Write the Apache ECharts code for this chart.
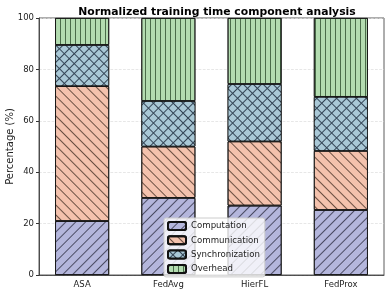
<!DOCTYPE html>
<html><head><meta charset="utf-8">
<script src="https://cdn.jsdelivr.net/npm/echarts@6/dist/echarts.min.js"></script>
<style>html,body{margin:0;padding:0;background:#fff}#c{width:389px;height:294px}</style>
</head><body><div id="c"></div>
<script>
const categories = ['ASA', 'FedAvg', 'HierFL', 'FedProx'];
const computation = [21, 30, 27, 25.3];
const communication = [52.5, 20, 25, 23];
const synchronization = [16, 17.7, 22.3, 21];
const overhead = [10.5, 32.3, 25.7, 30.7];
const yTicks = [0, 20, 40, 60, 80, 100];

const font = 'DejaVu Sans';
function mk(name, data, color, decal) {
  return {
    name, type: 'bar', stack: 'a', data, barWidth: 54,
    itemStyle: { color, borderColor: '#111', borderWidth: 0.8, decal },
    emphasis: { disabled: true }
  };
}
const diagUp = { symbol: 'rect', symbolSize: 1, dashArrayX: [1, 0], dashArrayY: [1, 6], rotation: -Math.PI / 4, color: 'rgba(40,40,60,0.75)' };
const diagDown = { symbol: 'rect', symbolSize: 1, dashArrayX: [1, 0], dashArrayY: [1, 6], rotation: Math.PI / 4, color: 'rgba(60,40,30,0.75)' };
const cross = { symbol: 'rect', symbolSize: 1, dashArrayX: [6, 1], dashArrayY: [6, 1], rotation: Math.PI / 4, color: '#a9c8d6' };
const vert = { symbol: 'rect', symbolSize: 1, dashArrayX: [1, 4], dashArrayY: [1, 0], rotation: 0, color: 'rgba(30,60,30,0.7)' };

const chart = echarts.init(document.getElementById('c'));
chart.setOption({
  animation: false,
  title: { text: 'Normalized training time component analysis', left: 212, top: 2, textAlign: 'center',
    textStyle: { fontFamily: font, fontSize: 10.8, fontWeight: 'bold', color: '#000' } },
  grid: { left: 39, right: 5, top: 18, bottom: 19, containLabel: false, outerBoundsMode: 'none',
    show: true, borderColor: '#333', borderWidth: 0.8, backgroundColor: 'transparent' },
  legend: {
    orient: 'vertical', left: 164, top: 218, itemWidth: 18, itemHeight: 8, itemGap: 4.3,
    backgroundColor: 'rgba(255,255,255,0.8)', borderColor: '#ccc', borderWidth: 1, borderRadius: 2, padding: [3, 5, 3, 3],
    textStyle: { fontFamily: font, fontSize: 8.6, color: '#222' },
    data: ['Computation', 'Communication', 'Synchronization', 'Overhead']
  },
  xAxis: {
    type: 'category', data: categories,
    axisLine: { lineStyle: { color: '#333', width: 0.8 } },
    axisTick: { alignWithLabel: true, length: 3, lineStyle: { color: '#333' } },
    axisLabel: { fontFamily: font, fontSize: 8.5, color: '#222', margin: 5 }
  },
  yAxis: {
    type: 'value', min: 0, max: 100, interval: 20,
    name: 'Percentage (%)', nameLocation: 'middle', nameGap: 24, nameMoveOverlap: false,
    nameTextStyle: { fontFamily: font, fontSize: 10, color: '#222' },
    axisLine: { show: true, lineStyle: { color: '#333', width: 0.8 } },
    axisTick: { show: true, length: 3, lineStyle: { color: '#333' } },
    axisLabel: { fontFamily: font, fontSize: 8.5, color: '#222', margin: 5, formatter: v => yTicks.includes(v) ? String(v) : '' },
    splitLine: { show: true, lineStyle: { type: 'dashed', color: '#ddd', width: 0.7 } }
  },
  series: [
    mk('Computation', computation, '#b4b6dc', diagUp),
    mk('Communication', communication, '#f4c2ad', diagDown),
    mk('Synchronization', synchronization, '#334455', cross),
    mk('Overhead', overhead, '#b3dcb0', vert)
  ]
});
</script></body></html>
